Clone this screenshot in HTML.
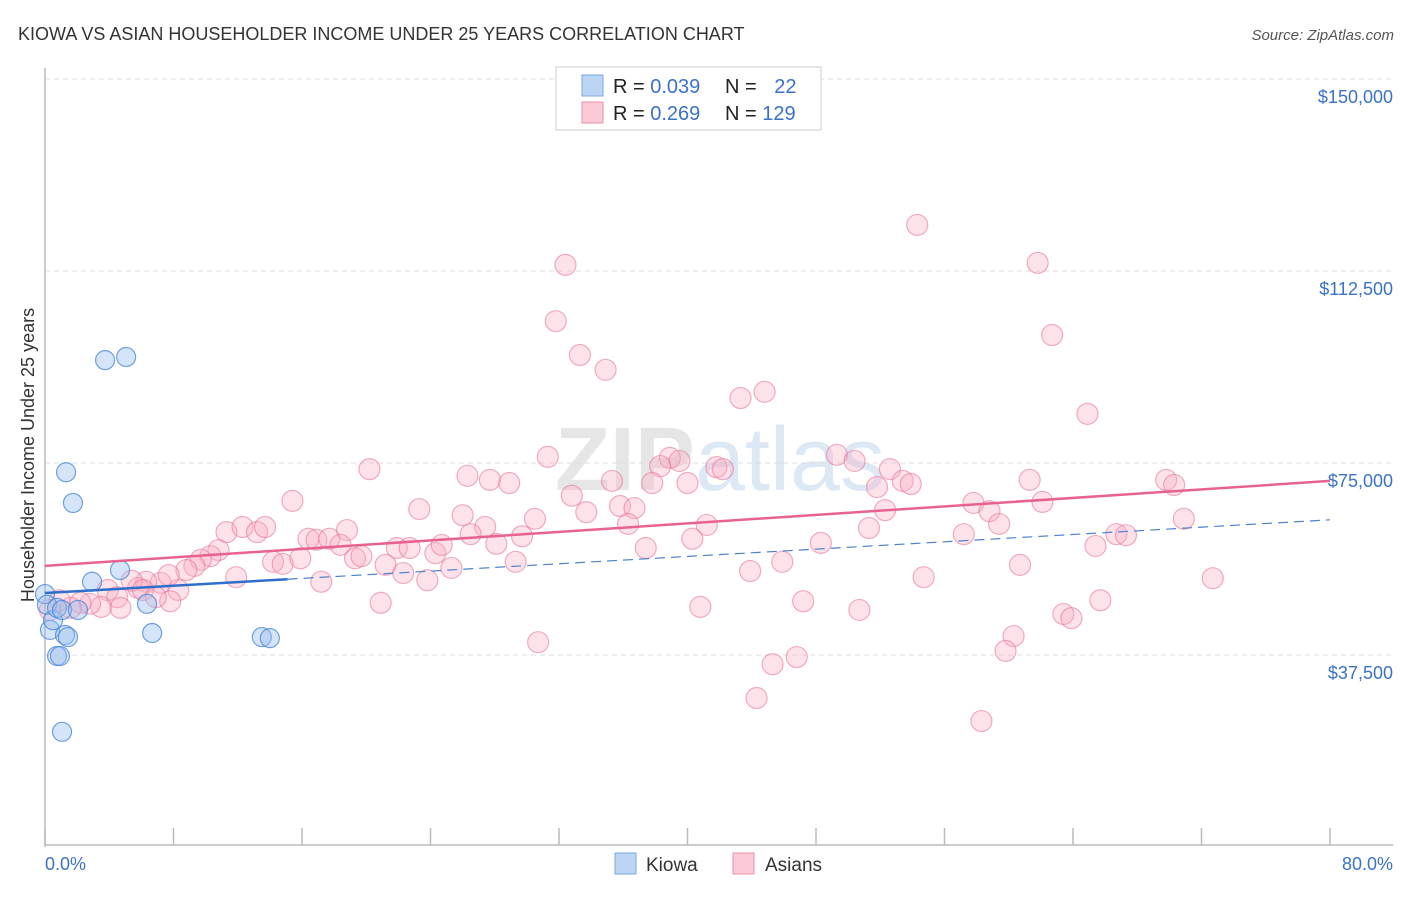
<!DOCTYPE html>
<html><head><meta charset="utf-8"><style>
body{margin:0;background:#fff;font-family:"Liberation Sans",sans-serif;}
svg text{font-family:"Liberation Sans",sans-serif;}
</style></head><body>
<svg id="c" width="1406" height="892" xmlns="http://www.w3.org/2000/svg">
<text x="18" y="40" font-size="18" fill="#333">KIOWA VS ASIAN HOUSEHOLDER INCOME UNDER 25 YEARS CORRELATION CHART</text>
<text x="1394" y="40" font-size="15" fill="#555" font-style="italic" text-anchor="end">Source: ZipAtlas.com</text>
<text x="720" y="490" font-size="90" fill="#e6e6e6" text-anchor="middle" font-weight="bold">ZIP<tspan fill="#dde8f5" font-weight="normal">atlas</tspan></text>
<text transform="translate(34,455) rotate(-90)" font-size="18" fill="#333" text-anchor="middle">Householder Income Under 25 years</text>
<g id="grid"></g><g id="marks"></g>
<g>
<rect x="556" y="67" width="265" height="63" fill="#fff" stroke="#ccc"/>
<rect x="582" y="75" width="21" height="21" fill="#bcd5f5" stroke="#7aa7e0"/>
<rect x="582" y="102" width="21" height="21" fill="#fcc9d6" stroke="#ee91ab"/>
<text x="613" y="93" font-size="20" fill="#222">R = <tspan fill="#3b72c8">0.039</tspan></text>
<text x="725" y="93" font-size="20" fill="#222">N = <tspan fill="#3b72c8" dx="12">22</tspan></text>
<text x="613" y="120" font-size="20" fill="#222">R = <tspan fill="#3b72c8">0.269</tspan></text>
<text x="725" y="120" font-size="20" fill="#222">N = <tspan fill="#3b72c8">129</tspan></text>
</g>
<g>
<rect x="615" y="853" width="21" height="21" fill="#bcd5f5" stroke="#7aa7e0"/>
<text x="646" y="871" font-size="19" fill="#333">Kiowa</text>
<rect x="733" y="853" width="21" height="21" fill="#fcc9d6" stroke="#ee91ab"/>
<text x="765" y="871" font-size="19" fill="#333">Asians</text>
</g>
</svg>
<script>
const kiowaX=[0,0.12,0.31,0.5,0.75,1.06,1.25,1.43,0.75,0.93,1.06,1.31,1.74,3.74,5.05,2.93,4.67,6.35,6.67,13.5,14.0,2.05];
const kiowaY=[49.4,47.3,42.4,44.3,46.7,46.3,41.4,41.0,37.3,37.3,22.5,73.2,67.2,95.1,95.7,51.8,54.1,47.5,41.8,41.0,40.8,46.3];
const asianX=[54.3,32.4,61.8,31.8,62.7,33.3,34.9,44.8,43.3,64.9,31.3,49.3,50.4,38.9,39.5,41.8,42.2,52.6,38.3,20.2,26.3,27.7,28.9,35.3,37.8,40.0,53.4,53.9,51.8,61.3,69.8,70.3,32.8,15.4,23.3,33.7,35.8,36.7,52.3,57.8,58.8,62.1,26.0,30.5,36.3,41.2,27.4,26.5,29.7,18.8,57.2,59.4,51.3,70.9,11.3,12.3,13.2,13.7,16.4,16.9,17.7,18.4,40.3,48.3,37.4,65.4,66.7,67.3,10.8,10.3,9.7,9.3,14.2,14.8,15.9,19.3,19.7,21.9,22.7,24.3,24.7,28.1,29.3,21.2,22.3,25.3,23.8,17.2,11.9,8.8,8.3,7.8,7.2,6.3,5.8,5.4,3.9,4.5,3.5,2.8,2.2,1.6,0.9,0.3,4.7,20.9,43.9,45.9,54.7,60.7,72.7,40.8,47.2,50.7,65.7,63.4,63.9,60.3,59.8,30.7,45.3,46.8,44.3,58.3,6.1,6.9,7.7];
const asianY=[121.5,113.7,114.1,102.7,100.0,96.1,93.2,88.9,87.7,84.6,76.2,76.6,75.4,76.0,75.4,74.2,73.8,73.8,74.4,73.8,72.5,71.7,71.1,71.5,71.1,71.1,71.5,70.9,70.3,71.7,71.7,70.7,68.6,67.6,66.0,65.4,66.6,66.2,65.8,67.2,65.6,67.4,64.8,64.1,63.1,62.9,62.5,61.1,60.7,61.9,61.1,63.1,62.3,64.1,61.5,62.5,61.5,62.5,60.2,60.0,60.2,59.0,60.2,59.4,58.4,58.8,61.1,60.9,58.0,56.8,56.1,54.9,55.7,55.3,56.4,56.4,56.8,58.4,58.4,57.4,59.0,59.2,55.7,55.1,53.5,54.5,52.1,51.8,52.7,54.1,50.2,48.0,51.6,51.8,50.6,52.0,50.2,48.8,46.9,47.5,47.7,46.7,48.2,46.3,46.7,47.7,53.9,55.7,52.7,55.1,52.5,46.9,48.0,46.3,48.2,45.5,44.7,41.2,38.3,40.0,35.7,37.1,29.1,24.6,50.2,48.8,53.1];
const yTicks=[37.5,75,112.5,150];
const yTickLabels=["$37,500","$75,000","$112,500","$150,000"];
const xTicks=[0,8,16,24,32,40,48,56,64,72,80];
const trendAsian=[54.9,71.5];
const trendKiowa=[49.6,63.9];
const kiowaSolidEnd=15.1;
const X0=45,X1=1330,YB=847;
const sx=v=>X0+(v/80)*(X1-X0);
const sy=v=>YB-v*5.12;
const NS="http://www.w3.org/2000/svg";
function mk(t,a,p){const e=document.createElementNS(NS,t);for(const k in a)e.setAttribute(k,a[k]);p.appendChild(e);return e;}
const grid=document.getElementById('grid'),marks=document.getElementById('marks');
yTicks.forEach((v,i)=>{
 const l=mk('line',{x1:X0,x2:1393,y1:sy(v),y2:sy(v),stroke:'#ddd','stroke-dasharray':'5,4'},grid);
 
 const t=mk('text',{x:1393,y:sy(v)+24,'font-size':18,fill:'#3b72c8','text-anchor':'end'},grid);
 t.textContent=yTickLabels[i];
 
});
const ya=mk('line',{x1:X0,x2:X0,y1:68,y2:YB,stroke:'#bbb','stroke-width':1.5},grid);

const xa=mk('line',{x1:X0,x2:1393,y1:845,y2:845,stroke:'#bbb','stroke-width':1.5},grid);

xTicks.forEach(v=>{const t=mk('line',{x1:sx(v),x2:sx(v),y1:828,y2:845,stroke:'#bbb','stroke-width':1.5},grid);
 });
const xl0=mk('text',{x:45,y:870,'font-size':18,fill:'#3b72c8'},grid);xl0.textContent='0.0%';

const xl1=mk('text',{x:1393,y:870,'font-size':18,fill:'#3b72c8','text-anchor':'end'},grid);xl1.textContent='80.0%';

asianX.forEach((x,i)=>{const c=mk('circle',{cx:sx(x),cy:sy(asianY[i]),r:10.5,fill:'rgba(248,172,195,0.35)',stroke:'rgba(232,120,155,0.6)','stroke-width':1.2},marks);
 });
kiowaX.forEach((x,i)=>{const c=mk('circle',{cx:sx(x),cy:sy(kiowaY[i]),r:9.5,fill:'rgba(150,190,240,0.4)',stroke:'rgba(70,130,215,0.75)','stroke-width':1.2},marks);
 });
const lerpK=x=>trendKiowa[0]+(trendKiowa[1]-trendKiowa[0])*x/80;
const ta=mk('line',{x1:sx(0),y1:sy(trendAsian[0]),x2:sx(80),y2:sy(trendAsian[1]),stroke:'#e8628f','stroke-width':2.5},marks);

const td=mk('line',{x1:sx(kiowaSolidEnd),y1:sy(lerpK(kiowaSolidEnd)),x2:sx(80),y2:sy(trendKiowa[1]),stroke:'#4a82d0','stroke-width':1.2,'stroke-dasharray':'10,6'},marks);

const tk=mk('line',{x1:sx(0),y1:sy(trendKiowa[0]),x2:sx(kiowaSolidEnd),y2:sy(lerpK(kiowaSolidEnd)),stroke:'#2f6fcc','stroke-width':2.5},marks);

</script>
</body></html>
